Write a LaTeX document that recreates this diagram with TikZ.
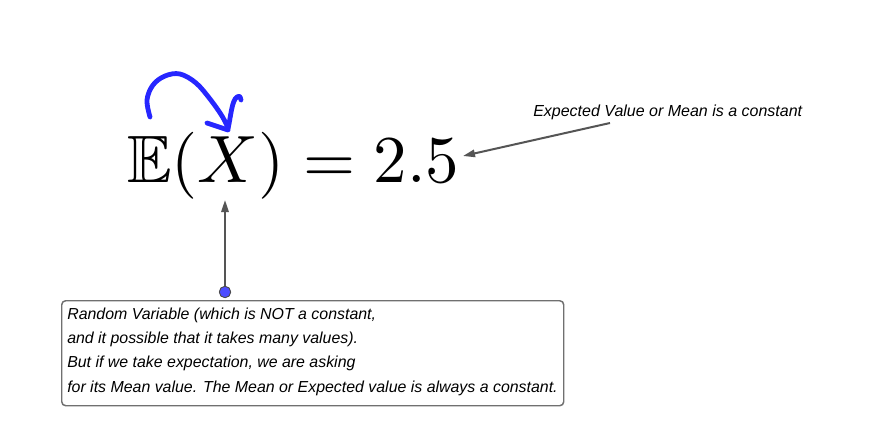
\documentclass[tikz,border=0pt]{standalone}
\usepackage[no-math]{fontspec}
\usepackage{amssymb}
\usepackage{graphicx}
\usetikzlibrary{arrows.meta}
\newfontfamily\annfont{Liberation Sans}
\definecolor{arrgray}{HTML}{555555}
\definecolor{boxgray}{HTML}{707070}
\definecolor{penblue}{HTML}{2626FF}
\definecolor{dotblue}{HTML}{4D4DFF}
\tikzset{
  annot/.style={font=\annfont\itshape\fontsize{12}{18.2}\selectfont, inner sep=0pt},
  ptr/.style={draw=arrgray, line width=1.5pt, -{Triangle[length=9pt,width=5.5pt]}},
  notebox/.style={draw=boxgray, line width=1.1pt, rounded corners=3pt, rectangle, inner sep=0pt},
  pen/.style={draw=penblue, line width=3.6pt, line cap=round, line join=round},
  dot/.style={circle, fill=dotblue, draw=black!70, line width=0.6pt, minimum size=8.5pt, inner sep=0pt}
}
\begin{document}
\begin{tikzpicture}[x=0.75pt, y=-0.75pt]
\useasboundingbox (0,0) rectangle (877,424);
\fill[white] (0,0) rectangle (877,424);
% formula
\node[anchor=base west, inner sep=0pt] (eq) at (127,182.5) {\scalebox{5.02}{$\mathbb{E}(X) = 2.5$}};
% top label and arrow
\node[annot, anchor=base west] (lbl) at (533,117) {Expected Value or Mean is a constant};
\coordinate (a1) at (610,123);
\coordinate (t1) at (463,156);
\draw[ptr] (a1) -- (t1);
% box
\node[notebox, anchor=north west, minimum width=502*0.75pt, minimum height=105*0.75pt] (box) at (61,300) {};
\node[annot, anchor=north west, align=left, font=\annfont\itshape\fontsize{11.93}{18.2}\selectfont] (boxtext) at (67,307.5) {Random Variable (which is NOT a constant,\\and it possible that it takes many values).\\But if we take expectation, we are asking\\for its Mean value. The Mean or Expected value is always a constant.};
% up arrow
\node[dot] (pt) at (225,292) {};
\coordinate (t2) at (225,200);
\draw[ptr] (pt) -- (t2);
\node[dot] at (pt) {};
% hand-drawn blue arrow
\draw[pen] plot[smooth, tension=0.6] coordinates {(150,117) (147,100) (153,85) (165,76) (180,74) (196,83) (210,99) (222,116) (228,128)};
\draw[pen] (207,123) -- (228,130);
\draw[pen] (228,129) .. controls (231,115) and (232,100) .. (237,97) .. controls (240,95) and (241,98) .. (241,100);
\end{tikzpicture}
\end{document}
